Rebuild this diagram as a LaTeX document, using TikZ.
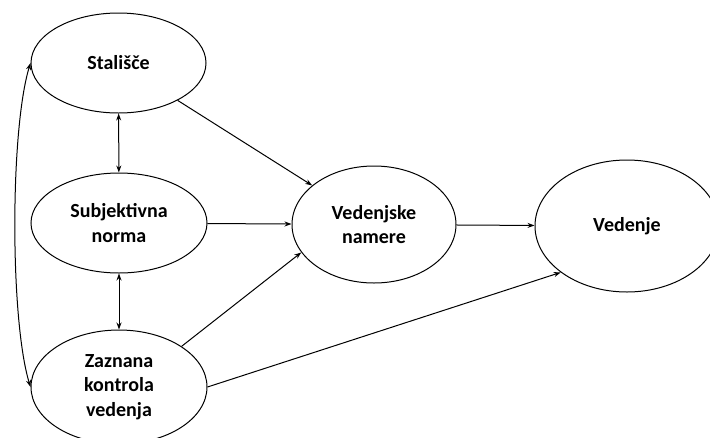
\documentclass[tikz,border=0pt]{standalone}
\usepackage{fontspec}
\setmainfont{Carlito}
\usetikzlibrary{shapes.geometric,arrows.meta}
\begin{document}
\begin{tikzpicture}[x=1pt,y=-1pt,
  el/.style={draw, ellipse, line width=1pt, inner sep=0pt, align=center,
    font=\fontsize{20}{24.5}\selectfont\bfseries},
  arr/.style={line width=1pt, -{Stealth[length=7pt,width=5pt]}},
  darr/.style={line width=1pt, {Stealth[length=7pt,width=5pt]}-{Stealth[length=7pt,width=5pt]}}]
\useasboundingbox (0,0) rectangle (710,437);
\node[el, minimum width=175pt, minimum height=100pt] (st) at (118.5,63) {Stališče};
\node[el, minimum width=176pt, minimum height=100pt] (sn) at (119,223) {Subjektivna\\norma};
\node[el, minimum width=176pt, minimum height=114pt] (zk) at (119,387) {Zaznana\\kontrola\\vedenja};
\node[el, minimum width=164pt, minimum height=117pt] (vn) at (374,224.5) {Vedenjske\\namere};
\node[el, minimum width=184pt, minimum height=132pt] (vd) at (627,226) {Vedenje};
\draw[darr] (st) -- (sn);
\draw[darr] (sn) -- (zk);
\draw[darr] (st.west) .. controls (10,130) and (10,320) .. (zk.west);
\draw[arr] (st) -- (vn);
\draw[arr] (sn) -- (vn);
\draw[arr] (zk.33) -- (vn.201);
\draw[arr] (zk.0) -- (vd.215);
\draw[arr] (vn) -- (vd);
\end{tikzpicture}
\end{document}
